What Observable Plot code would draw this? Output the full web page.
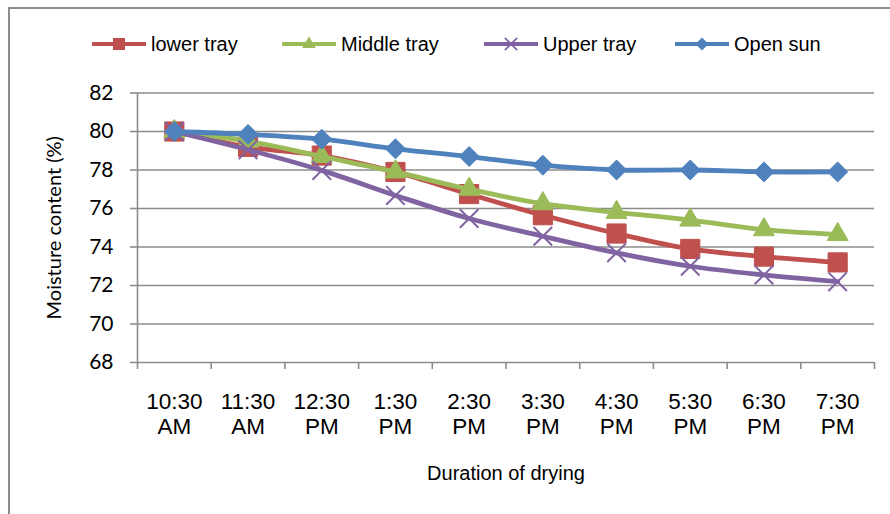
<!DOCTYPE html>
<html>
<head>
<meta charset="utf-8">
<script src="https://cdn.jsdelivr.net/npm/d3@7"></script>
<script src="https://cdn.jsdelivr.net/npm/@observablehq/plot@0.6"></script>
<style>
  html, body { margin: 0; padding: 0; background: #fff; }
  #wrap { position: relative; width: 890px; height: 514px; overflow: hidden; background: #fff; }
  #frame { position: absolute; left: 7.5px; top: 6.5px; width: 1000px; height: 1000px; border: 2.5px solid #8c8c8c; pointer-events: none; }
  #legend { position: relative; height: 70px; font-family: "Liberation Sans", Arial, sans-serif; font-size: 20px; color: #000; }
  .item { position: absolute; top: 30px; display: flex; align-items: center; height: 28px; }
  .item svg { display: block; }
  .item span { margin-left: 5px; }
</style>
</head>
<body>
<div id="wrap">
  <div id="legend"></div>
  <div id="chart"></div>
  <div id="frame"></div>
</div>
<script>
// ---- data ----
const times = ["10:30\nAM", "11:30\nAM", "12:30\nPM", "1:30\nPM", "2:30\nPM", "3:30\nPM", "4:30\nPM", "5:30\nPM", "6:30\nPM", "7:30\nPM"];
const lowerTray  = [80.0, 79.2, 78.75, 77.9, 76.75, 75.65, 74.7, 73.9, 73.5, 73.2];
const middleTray = [80.0, 79.5, 78.7, 77.9, 77.0, 76.25, 75.8, 75.4, 74.9, 74.65];
const upperTray  = [80.0, 79.05, 77.98, 76.68, 75.48, 74.56, 73.7, 73.0, 72.55, 72.2];
const openSun    = [80.0, 79.85, 79.6, 79.1, 78.7, 78.25, 78.0, 78.0, 77.9, 77.9];
const seriesNames = ["lower tray", "Middle tray", "Upper tray", "Open sun"];
const yTicks = [68, 70, 72, 74, 76, 78, 80, 82];
const yLabel = "Moisture content (%)";
const xLabel = "Duration of drying";

const seriesValues = [lowerTray, middleTray, upperTray, openSun];
const colors = ["#C0504D", "#9BBB59", "#8064A2", "#4F81BD"];
const symbols = ["square", "triangle", "times", "diamond2"];
const radii = [10.8, 7.8, 8.5, 9.0];

const rows = [];
seriesNames.forEach((s, k) => seriesValues[k].forEach((v, i) => rows.push({s, i, v})));

const grid = "#8c8c8c";
const marks = [
  Plot.ruleY(yTicks, {stroke: grid, strokeWidth: 1.6}),
  Plot.ruleX([-0.5], {stroke: grid, strokeWidth: 1.6}),
  Plot.axisY({ticks: yTicks, tickSize: 7, tickPadding: 17, stroke: grid, strokeWidth: 1.6,
              fontSize: 21, fontFamily: "Lato, 'Open Sans', sans-serif", fill: "#000", label: null, tickFormat: d => d}),
  Plot.axisX({ticks: d3.range(-0.5, 10, 1), tickSize: 7, stroke: grid, strokeWidth: 1.6,
              tickFormat: () => "", label: null}),
  Plot.text(times, {x: (d, i) => i, frameAnchor: "bottom", dy: 29, lineAnchor: "top", lineHeight: 1.1,
                    fontSize: 22.5, fontFamily: "'Liberation Sans', Arial, sans-serif", fill: "#000"}),
  Plot.text([xLabel], {frameAnchor: "bottom", dy: 117, fontSize: 20, fontFamily: "'Liberation Sans', Arial, sans-serif", fill: "#000"}),
  Plot.text([yLabel], {frameAnchor: "left", textAnchor: "middle", rotate: -90, dx: -83, fontSize: 20,
                       fontFamily: "Lato, 'Open Sans', sans-serif", fill: "#000"})
];

seriesNames.forEach((name, k) => {
  const data = rows.filter(r => r.s === name);
  marks.push(Plot.line(data, {x: "i", y: "v", stroke: colors[k], strokeWidth: 4.8, curve: "catmull-rom"}));
  if (symbols[k] === "times") {
    marks.push(Plot.dot(data, {x: "i", y: "v", symbol: "times", r: radii[k], stroke: colors[k], strokeWidth: 2, fill: "none"}));
  } else {
    marks.push(Plot.dot(data, {x: "i", y: "v", symbol: symbols[k], r: radii[k], fill: colors[k], stroke: colors[k], strokeWidth: 1}));
  }
});

const chart = Plot.plot({
  width: 890,
  height: 444,
  marginLeft: 137,
  marginRight: 16,
  marginTop: 22.5,
  marginBottom: 152,
  x: {type: "linear", domain: [-0.5, 9.5]},
  y: {domain: [68, 82]},
  style: {background: "#fff", overflow: "visible"},
  marks
});
document.getElementById("chart").appendChild(chart);

// ---- legend ----
const legendLeft = [92, 282, 484, 675];
const legend = document.getElementById("legend");
seriesNames.forEach((name, k) => {
  const item = document.createElement("div");
  item.className = "item";
  item.style.left = legendLeft[k] + "px";
  const svg = d3.create("svg").attr("width", 54).attr("height", 28);
  svg.append("line").attr("x1", 0).attr("x2", 54).attr("y1", 14).attr("y2", 14)
    .attr("stroke", colors[k]).attr("stroke-width", 4);
  const symMap = {square: d3.symbolSquare, triangle: d3.symbolTriangle, times: d3.symbolTimes, diamond2: d3.symbolDiamond2};
  const sizes = {square: 144, triangle: 80, times: 100, diamond2: 110};
  const p = svg.append("path").attr("transform", "translate(27,14)")
    .attr("d", d3.symbol(symMap[symbols[k]], sizes[symbols[k]])());
  if (symbols[k] === "times") p.attr("fill", "none").attr("stroke", colors[k]).attr("stroke-width", 1.8);
  else p.attr("fill", colors[k]);
  item.appendChild(svg.node());
  const span = document.createElement("span");
  span.textContent = name;
  item.appendChild(span);
  legend.appendChild(item);
});
</script>
</body>
</html>
